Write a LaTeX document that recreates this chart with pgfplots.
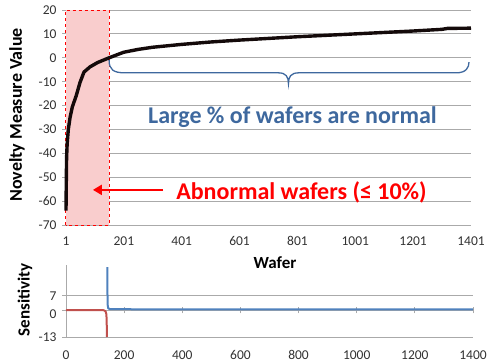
\documentclass[border=0pt]{standalone}
\usepackage{pgfplots}
\pgfplotsset{compat=1.18}
\usepackage{fontspec}
\setmainfont{Carlito}
\usetikzlibrary{arrows.meta}
\definecolor{curveblk}{RGB}{20,10,10}
\definecolor{gridgray}{RGB}{170,170,170}
\definecolor{bracebl}{RGB}{62,104,158}
\definecolor{pinkfill}{RGB}{249,205,205}
\definecolor{exred}{RGB}{192,80,77}
\definecolor{exblue}{RGB}{79,129,189}
\definecolor{ticktxt}{RGB}{50,50,50}
\begin{document}
\begin{tikzpicture}
\path[use as bounding box] (0,0) rectangle (488pt,364pt);
\begin{axis}[
  at={(66pt,139pt)}, anchor=south west,
  scale only axis, width=405pt, height=215pt,
  xmin=1, xmax=1401, ymin=-70, ymax=20,
  xtick={1,201,401,601,801,1001,1201,1401},
  xticklabels={1,201,401,601,801,1001,1201,1401},
  ytick={-70,-60,-50,-40,-30,-20,-10,0,10,20},
  yticklabels={-70,-60,-50,-40,-30,-20,-10,0,10,20},
  ymajorgrids, grid style={gridgray, line width=0.8pt},
  axis lines*=left,
  axis line style={gridgray, line width=0.8pt},
  x axis line style={draw=none},
  xtick style={draw=none},
  ytick style={gridgray, line width=0.8pt},
  tick align=outside, major tick length=4pt,
  ticklabel style={font=\fontsize{13.5}{15}\selectfont, text=ticktxt},
  xticklabel style={yshift=-4pt},
  yticklabel style={xshift=-2pt},
  clip=false,
]
\fill[pinkfill, draw=red, dashed, line width=0.8pt] (axis cs:0,-70) rectangle (axis cs:150,20);
\addplot[curveblk, line width=3.4pt, line join=round] coordinates {
(1,-64) (2,-52) (3,-42) (5,-36) (9,-30) (15,-25) (23,-20.5) (36,-16) (49,-10.5) (63,-6)
(84,-3.8) (110,-2) (150,0) (200,2.3) (250,3.5) (300,4.4) (400,5.6) (500,6.6) (600,7.4)
(700,8.1) (800,8.8) (900,9.4) (1000,10) (1100,10.6) (1200,11.2) (1300,11.9) (1320,12.3) (1401,12.4)};
\draw[bracebl, line width=1.3pt] (axis cs:150,-1) .. controls (axis cs:150,-5) and (axis cs:165,-6.3) .. (axis cs:205,-6.3)
  -- (axis cs:735,-6.3) .. controls (axis cs:762,-6.3) and (axis cs:770,-8) .. (axis cs:770,-10.8)
  .. controls (axis cs:770,-8) and (axis cs:778,-6.3) .. (axis cs:805,-6.3)
  -- (axis cs:1350,-6.3) .. controls (axis cs:1385,-6.3) and (axis cs:1394,-4) .. (axis cs:1394,-1.8);
\node[text=bracebl, font=\fontsize{24}{28}\selectfont\bfseries] at (axis cs:784,-24.8) {Large \% of wafers are normal};
\draw[red, line width=2.2pt, -{Triangle[length=9pt,width=10pt]}] (axis cs:337,-55.3) -- (axis cs:94,-55.3);
\node[text=red, font=\fontsize{24}{28}\selectfont\bfseries] at (axis cs:815,-56.2) {Abnormal wafers (≤ 10\%)};
\end{axis}
\begin{axis}[
  at={(66pt,27pt)}, anchor=south west,
  scale only axis, width=407pt, height=72pt,
  xmin=0, xmax=1400, ymin=-13, ymax=22,
  xtick={0,200,400,600,800,1000,1200,1400},
  xticklabels={0,200,400,600,800,1000,1200,1400},
  ytick={-13,7},
  yticklabels={-13,7},
  extra y ticks={0},
  extra y tick labels={0},
  extra y tick style={yticklabel style={yshift=-4pt}},
  ymajorgrids, grid style={gridgray, line width=0.8pt},
  axis lines*=left,
  axis line style={gridgray, line width=0.8pt},
  x axis line style={draw=none},
  xtick style={draw=none},
  ytick style={gridgray, line width=0.8pt},
  tick align=outside, major tick length=4pt,
  ticklabel style={font=\fontsize{13.5}{15}\selectfont, text=ticktxt},
  xticklabel style={yshift=-6pt},
  yticklabel style={xshift=-2pt},
  clip=false,
]
\pgfplotsinvokeforeach{200,400,600,800,1000,1200,1400}{
  \draw[gridgray, line width=0.8pt] (axis cs:#1,-1.5) -- (axis cs:#1,1.5);
}
\addplot[exred, line width=2pt, line join=round] coordinates {
(0,0) (50,0.1) (100,0.1) (130,0) (136,-0.5) (139,-2) (140,-6) (141,-13)};
\addplot[exblue, line width=2pt, line join=round] coordinates {
(142,21) (143,3) (145,1) (150,0.6) (200,0.5) (400,0.4) (800,0.4) (1400,0.4)};
\end{axis}
\node[rotate=90, font=\fontsize{18}{20}\selectfont\bfseries] at (17pt,249pt) {Novelty Measure Value};
\node[rotate=90, font=\fontsize{17}{20}\selectfont\bfseries] at (25pt,64pt) {Sensitivity};
\node[font=\fontsize{17}{20}\selectfont\bfseries] at (275pt,101pt) {Wafer};
\end{tikzpicture}
\end{document}
